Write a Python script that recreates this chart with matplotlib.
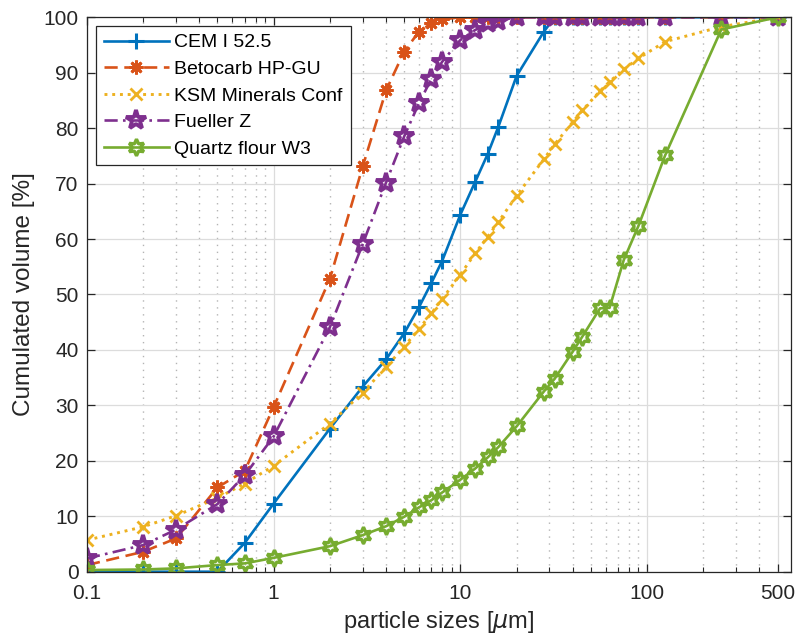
import matplotlib.pyplot as plt
import numpy as np
from matplotlib.ticker import FixedLocator, NullFormatter, LogLocator

plt.rcParams['font.family'] = ['Liberation Sans', 'DejaVu Sans']

# particle sizes in micrometre
sizes = [0.1, 0.2, 0.3, 0.5, 0.7, 1, 2, 3, 4, 5, 6, 7, 8, 10, 12, 14, 16, 20,
         28, 32, 40, 45, 56, 63, 75, 90, 125, 250, 500]

cem = [0, 0, 0, 0, 5.2, 12.3, 25.8, 33.4, 38.3, 43.0, 47.7, 52.1, 56.1, 64.4,
       70.3, 75.3, 80.3, 89.4, 97.4, 100, 100, 100, 100, 100, 100, 100, 100, 100, 100]
betocarb = [1.2, 3.6, 6.0, 15.2, 18.2, 29.7, 52.8, 73.1, 86.8, 93.8, 97.4, 98.9,
            99.6, 100, 100, 100, 100, 100, 100, 100, 100, 100, 100, 100, 100, 100,
            100, 100, 100]
ksm = [5.7, 8.1, 10.1, 13.3, 15.9, 19.1, 26.7, 32.3, 36.9, 40.6, 43.8, 46.6, 49.2,
       53.6, 57.4, 60.4, 63.1, 67.8, 74.4, 77.1, 81.1, 83.2, 86.7, 88.4, 90.6, 92.6,
       95.6, 98.3, 100]
fueller = [2.4, 4.8, 7.6, 12.2, 17.4, 24.4, 44.1, 59.1, 70.2, 78.5, 84.5, 88.9,
           92.0, 95.9, 97.7, 98.9, 99.4, 100, 100, 100, 100, 100, 100, 100, 100,
           100, 100, 100, 100]
quartz = [0.3, 0.4, 0.6, 1.2, 1.5, 2.5, 4.6, 6.6, 8.2, 9.9, 11.6, 12.9, 14.3, 16.6,
          18.6, 20.6, 22.5, 26.2, 32.5, 34.8, 39.7, 42.4, 47.5, 47.6, 56.2, 62.4,
          75.1, 97.8, 100]

labels = ['CEM I 52.5', 'Betocarb HP-GU', 'KSM Minerals Conf', 'Fueller Z',
          'Quartz flour W3']
xticks = [0.1, 1, 10, 100, 500]
xtick_labels = ['0.1', '1', '10', '100', '500']

fig = plt.figure(figsize=(7.95, 6.4), dpi=100)
ax = fig.add_axes([0.1094, 0.1067, 0.8855, 0.8663])

ax.plot(sizes, cem, '-', color='#0072BD', lw=1.9, marker='+', ms=11, mew=2.2,
        label=labels[0])
ax.plot(sizes, betocarb, ls=(0, (5, 2.5)), color='#D95319', lw=1.9, marker=(8, 2, 0),
        ms=10, mew=2.0, label=labels[1])
ax.plot(sizes, ksm, ':', color='#EDB120', lw=2.1, marker='x', ms=8, mew=2.0,
        label=labels[2])
ax.plot(sizes, fueller, ls=(0, (5, 2, 1, 2)), color='#7E2F8E', lw=1.9, marker='*',
        ms=15, mew=2.8, mfc='none', label=labels[3])
ax.plot(sizes, quartz, '-', color='#77AC30', lw=1.9, marker=(6, 1, 0), ms=12,
        mew=2.4, mfc='none', label=labels[4])

ax.set_xscale('log')
ax.set_xlim(0.1, 590)
ax.set_ylim(0, 100)
ax.xaxis.set_major_locator(FixedLocator(xticks))
ax.set_xticklabels(xtick_labels)
ax.xaxis.set_minor_locator(LogLocator(base=10, subs=np.arange(2, 10)))
ax.xaxis.set_minor_formatter(NullFormatter())
ax.set_yticks(np.arange(0, 101, 10))

ax.grid(True, which='major', color='#dcdcdc', lw=0.9)
ax.grid(True, which='minor', axis='x', color='#b4b4b4', ls=(0, (1, 4)), lw=1.0)
ax.set_axisbelow(True)

ax.tick_params(which='both', direction='in', top=True, right=True,
               labelsize=15, colors='#262626')
ax.tick_params(which='major', length=5.5, width=0.9)
ax.tick_params(which='minor', length=3.5, width=0.8)
ax.tick_params(axis='x', which='major', pad=9)
ax.tick_params(axis='y', which='major', pad=6)
for s in ax.spines.values():
    s.set_color('#262626')
    s.set_linewidth(0.9)

ax.set_xlabel(r'particle sizes [$\mu$m]', fontsize=17, color='#262626', labelpad=4)
ax.set_ylabel('Cumulated volume [%]', fontsize=17.5, color='#262626', labelpad=6)

leg = ax.legend(loc='upper left', fontsize=14, fancybox=False, framealpha=1,
                edgecolor='#262626', handlelength=3.35, borderaxespad=0.45,
                labelspacing=0.46, handletextpad=0.3, borderpad=0.4)
leg.get_frame().set_linewidth(0.9)

plt.savefig('out.png', dpi=100)
